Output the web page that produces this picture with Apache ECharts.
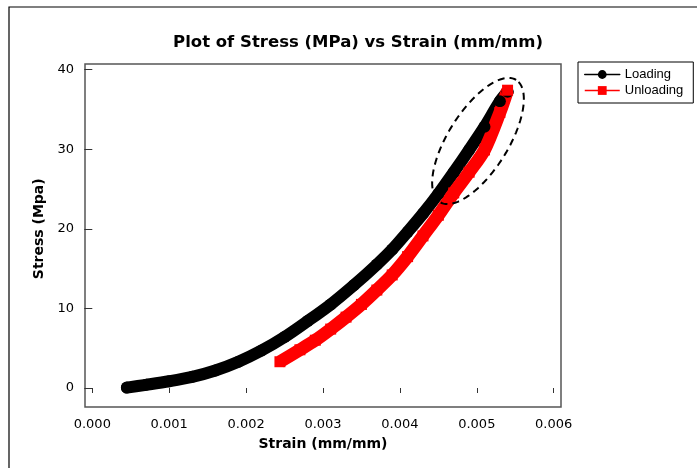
<!DOCTYPE html>
<html>
<head>
<meta charset="utf-8">
<title>Plot of Stress vs Strain</title>
<script src="https://cdn.jsdelivr.net/npm/echarts@6/dist/echarts.min.js"></script>
<style>
	html, body { margin: 0; padding: 0; background: #fff; }
	#chart { width: 697px; height: 468px; }
</style>
</head>
<body>
<div id="chart"></div>
<script>
/*
 * 应力-应变曲线（加载 / 卸载）
 */
var xTicks = [0, 0.001, 0.002, 0.003, 0.004, 0.005, 0.006];
var yTicks = [0, 10, 20, 30, 40];

// 加载段：应变 / 应力
var loadingStrain = [0.00045, 0.0007, 0.0010, 0.0013, 0.0016, 0.0019, 0.0022, 0.0025, 0.0028, 0.0031,
	0.0034, 0.0037, 0.0039, 0.0041, 0.0043, 0.0045, 0.0047, 0.0049, 0.0051, 0.0053, 0.0054];
var loadingStress = [0.05, 0.4, 0.85, 1.4, 2.2, 3.3, 4.7, 6.4, 8.4, 10.5,
	12.9, 15.5, 17.4, 19.6, 21.9, 24.4, 27.1, 29.9, 32.8, 36.0, 37.2];

// 卸载段：应变 / 应力
var unloadingStrain = [0.0054, 0.0053, 0.0051, 0.0049, 0.0047, 0.0045, 0.0043, 0.0041, 0.0039, 0.0037,
	0.0035, 0.0033, 0.0031, 0.0029, 0.0027, 0.00244];
var unloadingStress = [37.4, 34.6, 29.9, 27.1, 24.5, 21.7, 19.1, 16.5, 14.2, 12.3,
	10.5, 8.9, 7.4, 6.0, 4.8, 3.3];

var seriesNames = ["Loading", "Unloading"];

(function(window)
{
	var FONT = "DejaVu Sans";

	var pairs = function(xs, ys)
	{
		var re = [];
		for(var i=0; i<xs.length; i++)
			re.push([xs[i], ys[i]]);
		return re;
	};

	/**
	 * 标注用的虚线椭圆（像素坐标）。
	 */
	var ellipsePoints = function(cx, cy, a, b, angleDeg)
	{
		var re = [];
		var t = angleDeg * Math.PI / 180;
		for(var i=0; i<96; i++)
		{
			var p = i / 96 * Math.PI * 2;
			var ex = a * Math.cos(p), ey = b * Math.sin(p);
			re.push([cx + ex * Math.cos(t) - ey * Math.sin(t), cy - ex * Math.sin(t) - ey * Math.cos(t)]);
		}
		return re;
	};

	var chart = echarts.init(document.getElementById("chart"), null, { renderer: "canvas" });

	var option =
	{
		backgroundColor: "#fff",
		animation: false,
		title:
		{
			text: "Plot of Stress (MPa) vs Strain (mm/mm)",
			left: 358,
			textAlign: "center",
			top: 34,
			padding: 0,
			textStyle: { fontFamily: FONT, fontWeight: "bold", fontSize: 16.5, color: "#000" }
		},
		legend:
		{
			orient: "vertical",
			left: 578,
			top: 62,
			padding: [6, 10, 6, 6],
			itemGap: 3,
			itemWidth: 35,
			itemHeight: 11,
			borderColor: "#000",
			borderWidth: 1,
			lineStyle: { width: 1.5 },
			textStyle: { fontFamily: "Liberation Sans", fontSize: 13, color: "#000" },
			data: seriesNames
		},
		grid: { left: 92.3, right: 143.3, top: 69.5, bottom: 80 },
		xAxis:
		{
			type: "value",
			min: xTicks[0],
			max: xTicks[xTicks.length - 1],
			interval: 0.001,
			offset: 19,
			name: "Strain (mm/mm)",
			nameLocation: "middle",
			nameGap: 30,
			nameTextStyle: { fontFamily: FONT, fontWeight: "bold", fontSize: 14, color: "#000" },
			axisLine: { show: false },
			axisTick: { show: true, inside: false, length: 5, lineStyle: { color: "#333", width: 1 } },
			axisLabel: { margin: 11, fontFamily: FONT, fontSize: 13, color: "#000",
				formatter: function(v) { return v.toFixed(3); } },
			splitLine: { show: false }
		},
		yAxis:
		{
			type: "value",
			min: yTicks[0],
			max: yTicks[yTicks.length - 1],
			interval: 10,
			offset: 7.3,
			name: "Stress (Mpa)",
			nameLocation: "middle",
			nameGap: 33,
			nameTextStyle: { fontFamily: FONT, fontWeight: "bold", fontSize: 14, color: "#000" },
			axisLine: { show: false },
			axisTick: { show: true, inside: false, length: 8, lineStyle: { color: "#333", width: 1 } },
			axisLabel: { margin: 11, fontFamily: FONT, fontSize: 13, color: "#000" },
			splitLine: { show: false }
		},
		series:
		[
			{
				name: seriesNames[0],
				type: "line",
				clip: false,
				smooth: 0.3,
				symbol: "circle",
				symbolSize: 12,
				showAllSymbol: true,
				color: "#000",
				itemStyle: { color: "#000" },
				lineStyle: { color: "#000", width: 12, cap: "round", join: "round" },
				data: pairs(loadingStrain, loadingStress)
			},
			{
				name: seriesNames[1],
				type: "line",
				clip: false,
				smooth: 0.3,
				symbol: "rect",
				symbolSize: 11,
				showAllSymbol: true,
				color: "#ff0000",
				itemStyle: { color: "#ff0000" },
				lineStyle: { color: "#ff0000", width: 13, cap: "butt", join: "round" },
				data: pairs(unloadingStrain, unloadingStress)
			}
		],
		graphic:
		[
			{
				type: "rect",
				silent: true,
				z: -1,
				shape: { x: 9, y: 7, width: 720, height: 480 },
				style: { fill: "none", stroke: "#000", lineWidth: 1.2 }
			},
			{
				type: "rect",
				silent: true,
				shape: { x: 85, y: 64, width: 476, height: 343 },
				style: { fill: "none", stroke: "#555", lineWidth: 1.5 }
			},
			{
				type: "polygon",
				silent: true,
				z: 100,
				shape: { points: ellipsePoints(478, 141, 72, 30, 58) },
				style: { fill: "none", stroke: "#000", lineWidth: 2, lineDash: [7, 5] }
			}
		]
	};

	chart.setOption(option);
})
(window);
</script>
</body>
</html>
